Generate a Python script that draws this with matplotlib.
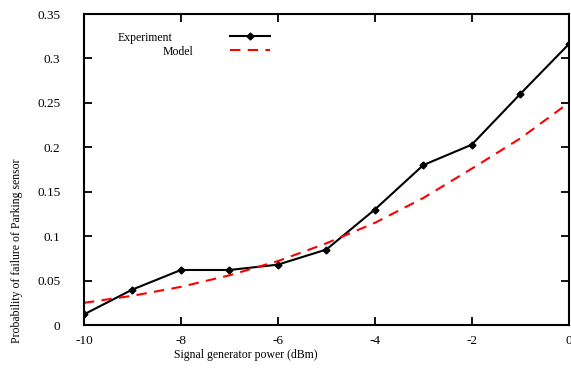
import numpy as np
import matplotlib
matplotlib.use("Agg")
import matplotlib.pyplot as plt

# values
power = [-10, -9, -8, -7, -6, -5, -4, -3, -2, -1, 0]
experiment = [0.012, 0.040, 0.062, 0.062, 0.068, 0.085, 0.130, 0.180, 0.203, 0.260, 0.316]
model = [0.025, 0.033, 0.043, 0.056, 0.072, 0.092, 0.115, 0.143, 0.176, 0.210, 0.250]

xticks = [-10, -8, -6, -4, -2, 0]
yticks = [0, 0.05, 0.1, 0.15, 0.2, 0.25, 0.3, 0.35]
ytick_labels = ["0", "0.05", "0.1", "0.15", "0.2", "0.25", "0.3", "0.35"]

plt.rcParams['font.family'] = ['Liberation Serif', 'DejaVu Serif']

fig = plt.figure(figsize=(5.71, 3.69), dpi=100)
ax = fig.add_axes([0.147, 0.119, 0.849, 0.843])

ax.plot(power, experiment, color='black', lw=1.5, marker='D', ms=3.5)
ax.plot(power, model, color='red', lw=1.5, ls=(0, (5, 3.5)))

ax.set_xlim(-10, 0)
ax.set_ylim(0, 0.35)
ax.set_xticks(xticks)
ax.set_xticklabels([str(t) for t in xticks])
ax.set_yticks(yticks)
ax.set_yticklabels(ytick_labels)
ax.tick_params(direction='in', length=6, width=1.3, top=True, right=True,
               labelsize=9.5)
ax.tick_params(axis='x', pad=7)
ax.tick_params(axis='y', pad=17)
for s in ax.spines.values():
    s.set_linewidth(1.5)

# gnuplot-style key
ax.text(0.07, 0.922, "Experiment", transform=ax.transAxes, fontsize=8.5,
        ha='left', va='center')
ax.text(0.163, 0.877, "Model", transform=ax.transAxes, fontsize=8.5,
        ha='left', va='center')
ax.plot([0.301, 0.383], [0.929, 0.929], transform=ax.transAxes, color='black', lw=1.5)
ax.plot([0.342], [0.929], transform=ax.transAxes, color='black', marker='D', ms=3.5)
ax.plot([0.301, 0.383], [0.884, 0.884], transform=ax.transAxes, color='red', lw=1.5,
        ls=(0, (5, 3.5)))

fig.text(0.43, 0.038, "Signal generator power (dBm)", ha='center', va='center', fontsize=8.5)
fig.text(0.03, 0.32, "Probability of failure of Parking sensor", ha='center', va='center',
         rotation=90, fontsize=8.5)

fig.savefig("out.png", dpi=100)
